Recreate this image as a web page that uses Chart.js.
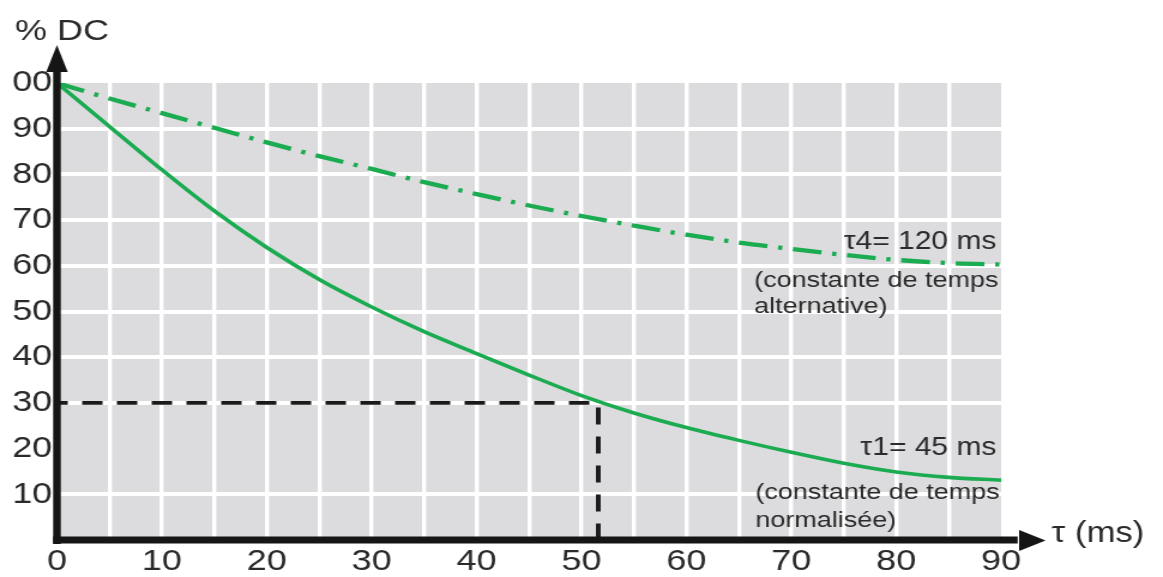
<!DOCTYPE html>
<html>
<head>
<meta charset="utf-8">
<script src="https://cdn.jsdelivr.net/npm/chart.js@4.4.0/dist/chart.umd.min.js"></script>
<style>
  html, body { margin: 0; padding: 0; background: #fff; }
  /* le dessin d'origine est étiré en largeur : canvas 970 px affiché sur 1163 px */
  #chart { display: block; width: 1163px !important; height: 577px !important; }
</style>
</head>
<body>
<canvas id="chart" width="970" height="577" style="width:1163px;height:577px"></canvas>
<script>
// valeurs (temps en ms, % DC)
const times   = [0, 5, 10, 15, 20, 25, 30, 35, 40, 45, 50, 55, 60, 65, 70, 75, 80, 85, 90];
const tau1Pct = [100, 90.5, 81, 72, 64, 57, 51, 45.6, 40.8, 36.1, 31.6, 27.8, 24.6, 21.8, 19.2, 16.8, 14.9, 13.7, 13.1];
const tau4Pct = [100, 96.6, 93.4, 90.2, 87.0, 84.0, 81.2, 78.3, 75.7, 73.2, 70.9, 68.8, 66.8, 65.1, 63.7, 62.4, 61.3, 60.6, 60.3];
const refTime = 51.6;
const refPct  = 30;

const xTickLabels = ['0', '', '10', '', '20', '', '30', '', '40', '', '50', '', '60', '', '70', '', '80', '', '90'];
const yTickLabels = ['', '10', '20', '30', '40', '50', '60', '70', '80', '90', '00'];
const yGridValues = [10, 30, 40, 50, 60, 70, 80, 90];

const FONT = "'Liberation Sans', Arial, sans-serif";
const GREEN = '#1bab50';
const TEXT = '#2a2a2a';
const NONE = 'rgba(0,0,0,0)';

const toPoints = (ys) => times.map((t, i) => ({ x: t, y: ys[i] }));

// fond gris de la zone de tracé
const plotBg = {
    id: 'plotBg',
    beforeDraw(chart) {
        const { ctx, chartArea: a } = chart;
        ctx.save();
        ctx.fillStyle = '#fff';
        ctx.fillRect(0, 0, chart.width, chart.height);
        ctx.fillStyle = '#dcdcdf';
        ctx.fillRect(a.left, a.top, a.right - a.left, a.bottom - a.top);
        ctx.restore();
    }
};

// axes noirs avec flèches + textes
const axesAndNotes = {
    id: 'axesAndNotes',
    afterDraw(chart) {
        const { ctx, chartArea: a } = chart;
        ctx.save();
        ctx.fillStyle = '#151515';

        // axe vertical
        ctx.fillRect(a.left - 3.2, 70, 6.4, a.bottom + 4 - 70);
        ctx.beginPath();
        ctx.moveTo(a.left, 45);
        ctx.lineTo(a.left - 9, 72);
        ctx.lineTo(a.left + 9, 72);
        ctx.closePath();
        ctx.fill();

        // axe horizontal
        ctx.fillRect(a.left - 3.2, a.bottom - 3.5, a.right + 17 - a.left, 7);
        ctx.beginPath();
        ctx.moveTo(a.right + 37, a.bottom + 0.5);
        ctx.lineTo(a.right + 15, a.bottom - 10);
        ctx.lineTo(a.right + 15, a.bottom + 11);
        ctx.closePath();
        ctx.fill();

        ctx.fillStyle = TEXT;
        ctx.textBaseline = 'alphabetic';

        ctx.textAlign = 'left';
        ctx.font = '30px ' + FONT;
        ctx.fillText('% DC', 12.5, 40);
        ctx.font = '29px ' + FONT;
        ctx.fillText('\u03c4 (ms)', a.right + 42, 542);

        // annotations des courbes
        ctx.textAlign = 'right';
        ctx.font = '25px ' + FONT;
        ctx.fillText('\u03c44= 120 ms', a.right - 4, 249);
        ctx.fillText('\u03c41= 45 ms', a.right - 4, 455);

        ctx.textAlign = 'left';
        ctx.font = '22.5px ' + FONT;
        ctx.fillText('(constante de temps', 629, 287);
        ctx.fillText('alternative)', 629, 313);
        ctx.fillText('(constante de temps', 630, 499);
        ctx.fillText('normalisée)', 630, 527);

        ctx.restore();
    }
};

const chart = new Chart(document.getElementById('chart'), {
    type: 'line',
    data: {
        datasets: [
            {
                label: '\u03c41= 45 ms',
                data: toPoints(tau1Pct),
                borderColor: GREEN,
                borderWidth: 3.6,
                pointRadius: 0,
                cubicInterpolationMode: 'monotone',
                fill: false
            },
            {
                label: '\u03c44= 120 ms',
                data: toPoints(tau4Pct),
                borderColor: GREEN,
                borderWidth: 4.3,
                borderDash: [24, 9, 3.5, 9],
                pointRadius: 0,
                cubicInterpolationMode: 'monotone',
                fill: false
            },
            {
                label: 'repère 30 %',
                data: [{ x: 0, y: refPct }, { x: refTime, y: refPct }, { x: refTime, y: 0 }],
                borderColor: '#1a1a1a',
                borderWidth: 3.9,
                borderDash: [17, 12],
                borderDashOffset: 8,
                pointRadius: 0,
                tension: 0,
                fill: false
            }
        ]
    },
    options: {
        responsive: false,
        animation: false,
        events: [],
        layout: {
            autoPadding: false,
            padding: { left: 0, top: 83, right: 135, bottom: 0 }
        },
        plugins: {
            legend: { display: false },
            tooltip: { enabled: false }
        },
        scales: {
            x: {
                type: 'linear',
                min: 0,
                max: 90,
                afterFit(scale) { scale.height = 37; },
                border: { display: false },
                grid: {
                    drawTicks: false,
                    lineWidth: 3.4,
                    color: (c) => (c.tick && c.tick.value > 0 && c.tick.value < 90) ? '#fff' : NONE
                },
                ticks: {
                    stepSize: 5,
                    autoSkip: false,
                    maxRotation: 0,
                    padding: 4,
                    color: TEXT,
                    font: { family: FONT, size: 30 },
                    callback: (v, i) => xTickLabels[i]
                }
            },
            y: {
                min: 0,
                max: 100,
                afterFit(scale) { scale.width = 47.5; },
                border: { display: false },
                grid: {
                    drawTicks: false,
                    lineWidth: 4,
                    color: (c) => (c.tick && yGridValues.includes(c.tick.value)) ? '#fff' : NONE
                },
                ticks: {
                    stepSize: 10,
                    padding: 4,
                    color: TEXT,
                    font: { family: FONT, size: 30 },
                    callback: (v, i) => yTickLabels[i]
                }
            }
        }
    },
    plugins: [plotBg, axesAndNotes]
});

// garde l'étirement horizontal même si Chart.js réécrit le style
chart.canvas.style.width = '1163px';
chart.canvas.style.height = '577px';
</script>
</body>
</html>
